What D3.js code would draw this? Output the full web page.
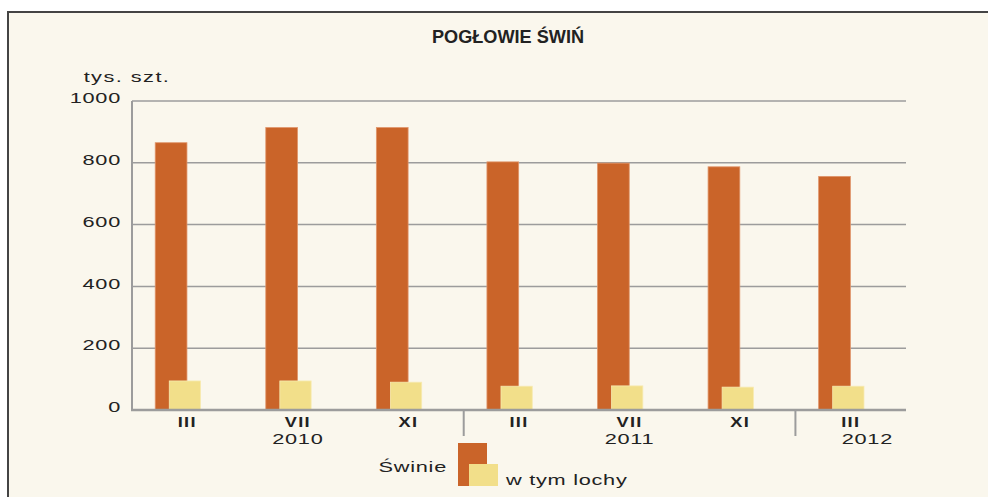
<!DOCTYPE html>
<html>
<head>
<meta charset="utf-8">
<script src="https://cdn.jsdelivr.net/npm/d3@7"></script>
<style>
  body { margin: 0; background: #fff; }
  svg text { font-family: "Liberation Sans", Arial, sans-serif; fill: #222; }
</style>
</head>
<body>
<div id="d3-container"></div>
<script>
/**
 * DATA
 * */
const months = ["III", "VII", "XI", "III", "VII", "XI", "III"];
const years = ["2010", "2011", "2012"];
const monthsPerYear = [3, 3, 1];
const swinie = [865, 914, 914, 803, 799, 787, 756];
const lochy = [94, 94, 90, 77, 78, 74, 77];
const yTicks = [0, 200, 400, 600, 800, 1000];

/**
 * CONSTANTS
 * */
const width = 988,
  height = 497,
  margin = { top: 101, bottom: 87, left: 132, right: 82 };

const orange = "#ca6429",
  yellow = "#f2df8a",
  grey = "#9c9c9c",
  bg = "#faf7ed",
  stretch = 1.45;

const svg = d3.select("#d3-container")
  .append("svg")
  .attr("width", width)
  .attr("height", height);

// frame
svg.append("rect")
  .attr("x", 8).attr("y", 12)
  .attr("width", width).attr("height", height)
  .attr("fill", bg)
  .attr("stroke", "#444")
  .attr("stroke-width", 2);

// + SCALES
const x = d3.scaleBand()
  .domain(d3.range(months.length))
  .range([margin.left, width - margin.right]);

const y = d3.scaleLinear()
  .domain([0, 1000])
  .range([height - margin.bottom, margin.top]);

const bw = x.bandwidth();

// stretched text helper (the original uses a wide typeface)
function wideText(sel, px, py, str, opts = {}) {
  const g = sel.append("g")
    .attr("transform", `translate(${px},${py}) scale(${opts.sx || stretch},1)`);
  return g.append("text")
    .attr("text-anchor", opts.anchor || "middle")
    .attr("dominant-baseline", "central")
    .attr("font-size", opts.size || 15)
    .attr("font-weight", opts.weight || "normal")
    .attr("letter-spacing", opts.ls == null ? 0.5 : opts.ls)
    .text(str);
}

// title
svg.append("text")
  .attr("x", 508).attr("y", 37)
  .attr("text-anchor", "middle")
  .attr("dominant-baseline", "central")
  .attr("font-size", 18)
  .attr("font-weight", "bold")
  .attr("textLength", 152)
  .attr("lengthAdjust", "spacingAndGlyphs")
  .text("POGŁOWIE ŚWIŃ");

wideText(svg, 127, 77, "tys. szt.", { size: 15, ls: 1 });

// + GRIDLINES
svg.append("g")
  .selectAll("line")
  .data(yTicks.filter(d => d > 0))
  .join("line")
  .attr("x1", margin.left).attr("x2", width - margin.right)
  .attr("y1", d => y(d)).attr("y2", d => y(d))
  .attr("stroke", grey)
  .attr("stroke-width", 1.5);

// y tick labels
yTicks.forEach(t => {
  wideText(svg, margin.left - 11, y(t) - 3, String(t), { anchor: "end", size: 15 });
});

// + BARS
svg.append("g")
  .selectAll("rect")
  .data(swinie)
  .join("rect")
  .attr("x", (d, i) => x(i) + bw * 0.21)
  .attr("y", d => y(d))
  .attr("width", bw * 0.287)
  .attr("height", d => y(0) - y(d))
  .attr("fill", orange)
  .attr("stroke", "#e0956a")
  .attr("stroke-width", 0.8);

svg.append("g")
  .selectAll("rect")
  .data(lochy)
  .join("rect")
  .attr("x", (d, i) => x(i) + bw * 0.337)
  .attr("y", d => y(d))
  .attr("width", bw * 0.283)
  .attr("height", d => y(0) - y(d))
  .attr("fill", yellow)
  .attr("stroke", "#f7eab0")
  .attr("stroke-width", 0.8);

// + AXES LINES
svg.append("line")
  .attr("x1", margin.left).attr("x2", margin.left)
  .attr("y1", y(1000)).attr("y2", y(0))
  .attr("stroke", grey).attr("stroke-width", 2);

svg.append("line")
  .attr("x1", margin.left - 1).attr("x2", width - margin.right)
  .attr("y1", y(0)).attr("y2", y(0))
  .attr("stroke", grey).attr("stroke-width", 2.5);

// month labels
months.forEach((m, i) => {
  wideText(svg, x(i) + bw / 2, y(0) + 12, m, { size: 14, weight: "bold", ls: 1, sx: 1.3 });
});

// year separators and labels
let start = 0;
const monthLabelW = 18;
years.forEach((yr, k) => {
  const n = monthsPerYear[k];
  const end = start + n;
  if (end < months.length) {
    const sx = x(end);
    svg.append("line")
      .attr("x1", sx).attr("x2", sx)
      .attr("y1", y(0)).attr("y2", y(0) + 26)
      .attr("stroke", grey).attr("stroke-width", 2);
  }
  if (n > 1) {
    const cx = (x(start) + x(end - 1) + bw) / 2;
    wideText(svg, cx, y(0) + 29, yr, { size: 15 });
  } else {
    wideText(svg, x(start) + bw / 2 - monthLabelW / 2, y(0) + 29, yr, { size: 15, anchor: "start" });
  }
  start = end;
});

// + LEGEND
const legend = svg.append("g").attr("transform", "translate(458,443)");
legend.append("rect")
  .attr("width", 29).attr("height", 43)
  .attr("fill", orange);
legend.append("rect")
  .attr("x", 11).attr("y", 21)
  .attr("width", 29).attr("height", 22)
  .attr("fill", yellow);
wideText(legend, -11, 24, "Świnie", { anchor: "end", size: 15, ls: 0.5 });
wideText(legend, 48, 37, "w tym lochy", { anchor: "start", size: 15, ls: 0.5 });
</script>
</body>
</html>
